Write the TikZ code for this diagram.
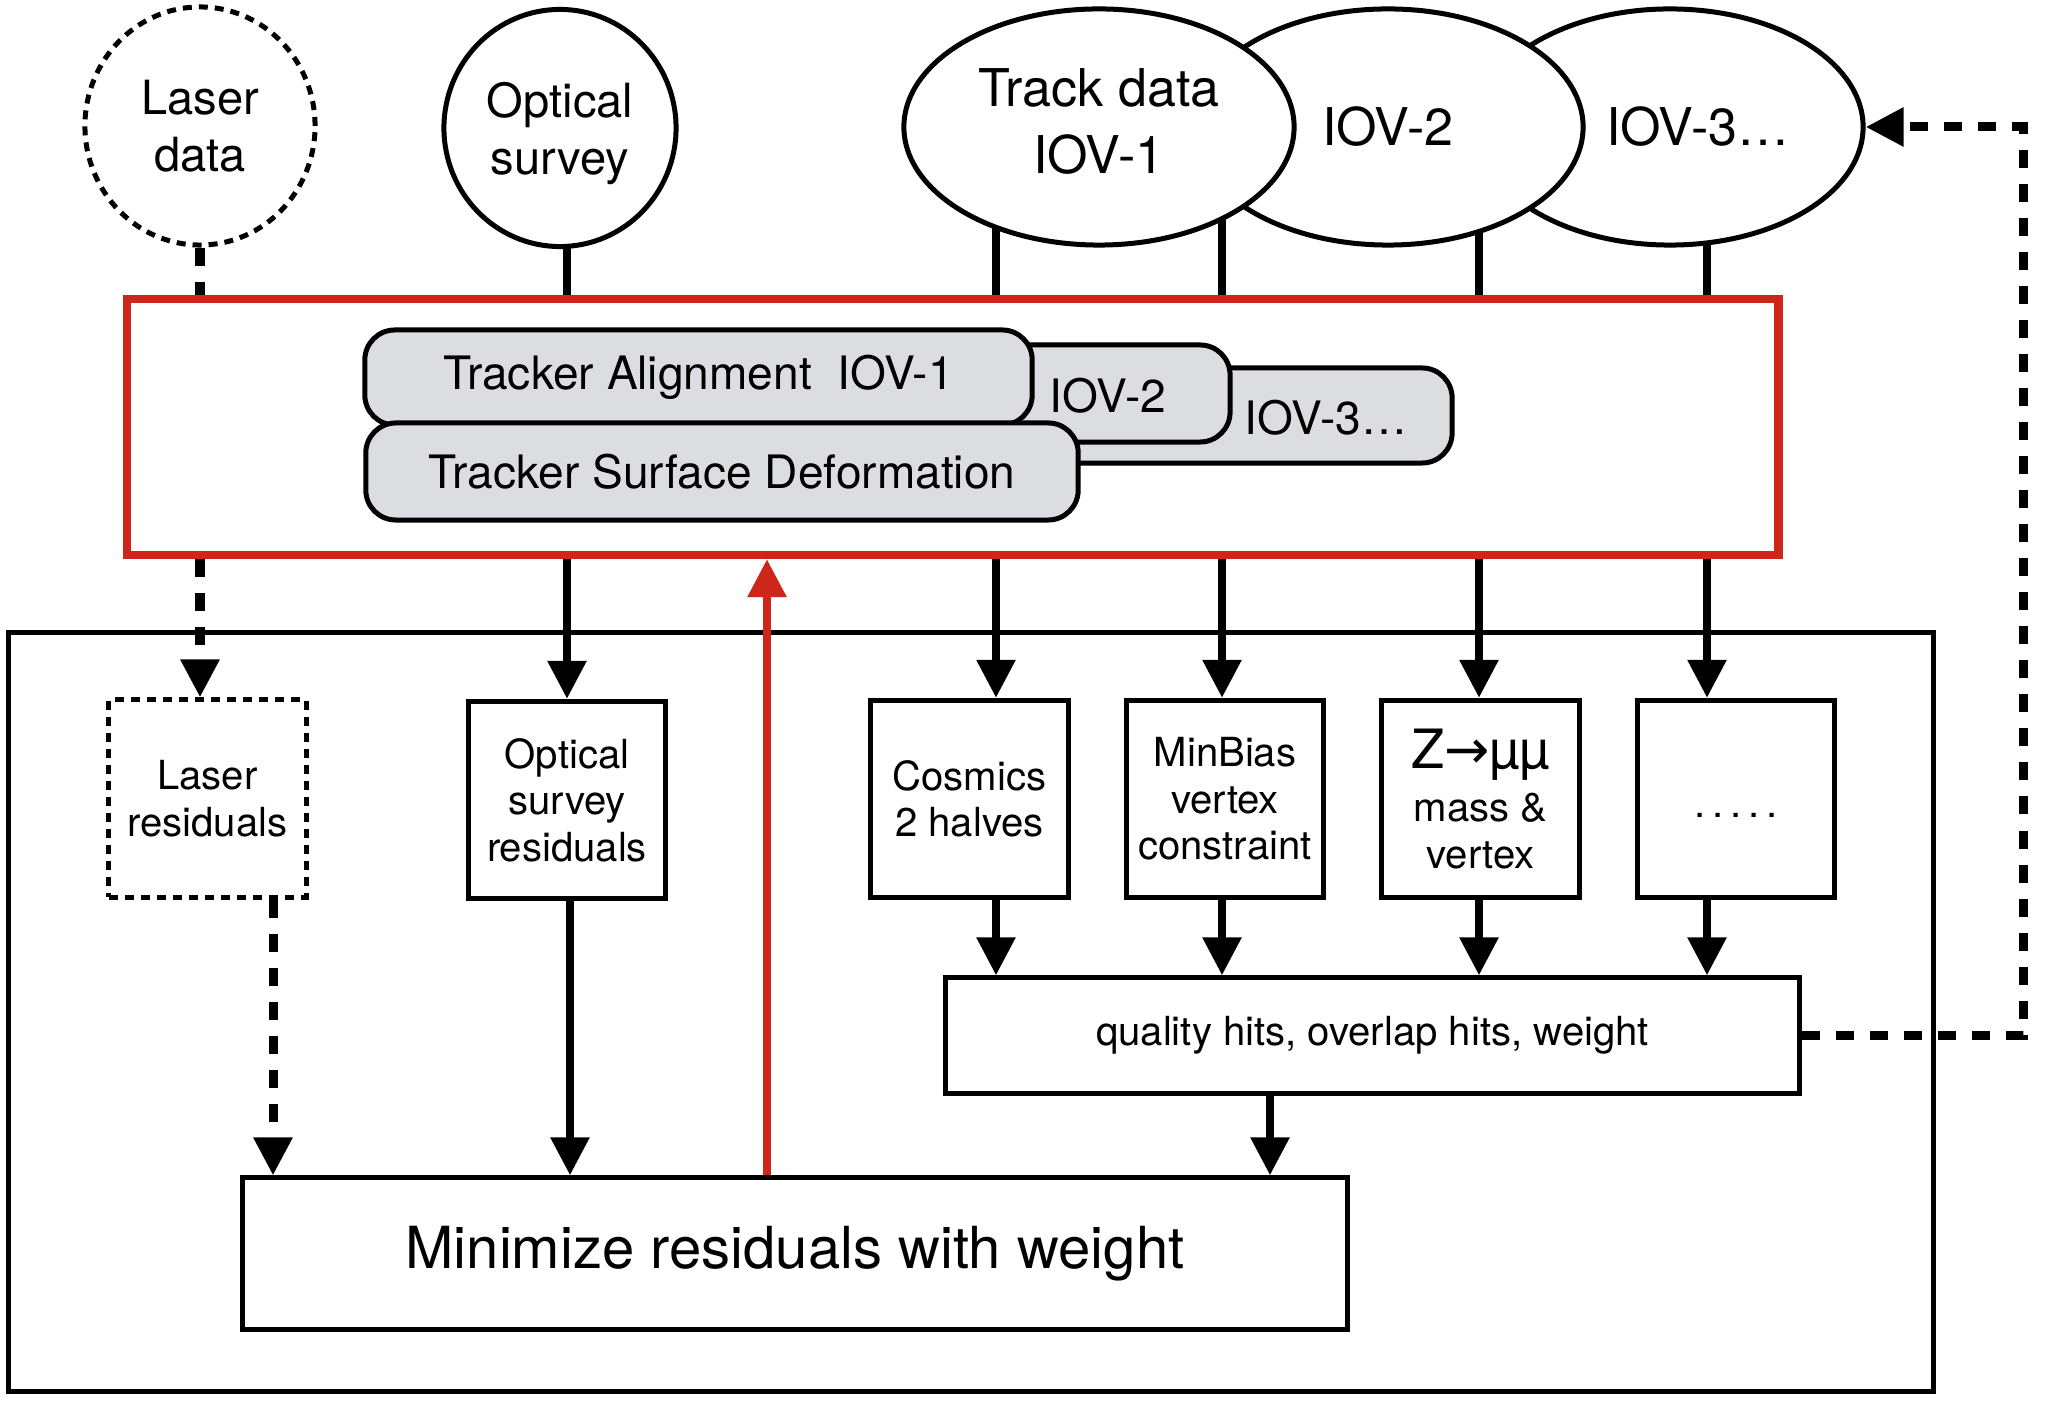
\documentclass[tikz,border=0pt]{standalone}
\usepackage{fontspec}
\setmainfont{TeX Gyre Heros}
\newfontfamily\dejavu{DejaVu Sans}
\usetikzlibrary{arrows.meta,shapes.geometric,backgrounds}
\definecolor{cmsred}{RGB}{205,38,27}
\definecolor{boxgray}{RGB}{220,221,224}
\begin{document}
\begin{tikzpicture}[x=0.01cm,y=-0.01cm,
  thinline/.style={line width=0.05cm},
  ell/.style={ellipse,draw,thinline,fill=white,inner sep=0pt,align=center},
  gbox/.style={draw,thinline,fill=boxgray,rounded corners=0.3cm,inner sep=0pt},
  sbox/.style={draw,thinline,fill=white,minimum width=1.97cm,minimum height=1.97cm,inner sep=0pt,align=center,font=\fontsize{11.4}{13.2}\selectfont},
  arr/.style={line width=0.085cm,-{Triangle[length=0.38cm,width=0.37cm]}},
  conn/.style={line width=0.085cm},
  thickdash/.style={line width=0.09cm,dash pattern=on 0.18cm off 0.16cm},
  dotline/.style={dash pattern=on 0.09cm off 0.07cm},
  circfont/.style={font=\fontsize{13.4}{16.2}\selectfont},
  ellfont/.style={font=\fontsize{14.8}{19}\selectfont},
  gfont/.style={font=\fontsize{13.1}{15}\selectfont},
]
\useasboundingbox (0,0) rectangle (2048,1401);

% column coordinates
\coordinate (xB) at (567,0);
\coordinate (xC) at (996,0);
\coordinate (xD) at (1222,0);
\coordinate (xE) at (1479,0);
\coordinate (xF) at (1707,0);
\coordinate (xR) at (767,0);
\coordinate (xL) at (273,0);
\coordinate (xO) at (570,0);
\coordinate (xQ) at (1270,0);
\coordinate (fb) at (2023,0);

% outer frame
\node[draw,thinline,minimum width=19.24cm,minimum height=7.58cm,inner sep=0pt] (frame) at (971,1012) {};

% source ellipses
\node[ell,dotline,minimum width=2.30cm,minimum height=2.38cm,circfont] (laser) at (200,126) {Laser\\data};
\node[ell,minimum width=2.32cm,minimum height=2.37cm,circfont,text depth=0pt] (optical) at (560,128) {Optical\\survey};
\node[ell,minimum width=3.86cm,minimum height=2.36cm] (iov3) at (1670,127) {};
\node[ellfont] (iov3t) at (1698,127) {IOV-3…};
\node[ell,minimum width=3.90cm,minimum height=2.36cm,ellfont] (iov2) at (1388,127) {IOV-2};
\node[ell,minimum width=3.90cm,minimum height=2.36cm,ellfont,text depth=0.12cm] (iov1) at (1099,127) {Track data\\IOV-1};

% red box
\node[draw=cmsred,line width=0.08cm,fill=white,minimum width=16.51cm,minimum height=2.56cm,inner sep=0pt] (red) at (952.5,427) {};

% gray boxes
\node[gbox,minimum width=4.52cm,minimum height=0.95cm] (g3) at (1226,415.5) {};
\node[gfont] (g3t) at (1326,418) {IOV-3…};
\node[gbox,minimum width=3.30cm,minimum height=0.97cm] (g2) at (1065,393.5) {};
\node[gfont] (g2t) at (1108,396) {IOV-2};
\node[gbox,minimum width=6.67cm,minimum height=0.95cm,gfont] (galign) at (698.5,377.5) {Tracker Alignment~~IOV-1};
\node[gbox,minimum width=7.12cm,minimum height=0.97cm,gfont] (gsurf) at (722,471.5) {Tracker Surface Deformation};

% connectors from sources into the red box (behind the ellipses)
\begin{scope}[on background layer]
\fill[white] (0,0) rectangle (2048,1401);
\draw[thickdash] (laser.south) -- (laser.south |- red.north);
\draw[conn] (xB |- optical.center) -- (xB |- red.north);
\draw[conn] (xC |- iov1.center) -- (xC |- red.north);
\draw[conn] (xD |- iov1.center) -- (xD |- red.north);
\draw[conn] (xE |- iov2.center) -- (xE |- red.north);
\draw[conn] (xF |- iov3.center) -- (xF |- red.north);
\end{scope}

% residual boxes
\node[sbox,dotline] (laserres) at (207.5,798.5) {Laser\\residuals};
\node[sbox] (optres) at (567,800) {Optical\\survey\\residuals};
\node[sbox] (cosmics) at (969.5,799) {Cosmics\\2 halves};
\node[sbox] (minbias) at (1225,799) {MinBias\\vertex\\constraint};
\node[sbox] (zmm) at (1480.5,799) {{\fontsize{15.4}{17}\selectfont Z{\dejavu →}µµ}\\[2pt]mass \&\\vertex};
\node[sbox] (dotsbox) at (1736,799) {};
\node[anchor=base,font=\fontsize{11.4}{13.2}\selectfont] (dotst) at (1736,818) {.\,.\,.\,.\,.};

% quality and minimize boxes
\node[draw,thinline,fill=white,minimum width=8.53cm,minimum height=1.15cm,inner sep=0pt,font=\fontsize{11.4}{13.2}\selectfont] (quality) at (1372.5,1035.5) {quality hits, overlap hits, weight};
\node[draw,thinline,fill=white,minimum width=11.04cm,minimum height=1.51cm,inner sep=0pt,font=\fontsize{16.5}{19}\selectfont] (minimize) at (795,1253.5) {Minimize residuals with weight};

% arrows from red box to residual boxes
\draw[arr,thickdash] (laser.south |- red.south) -- (laser.south |- laserres.north);
\draw[arr] (xB |- red.south) -- (xB |- optres.north);
\draw[arr] (xC |- red.south) -- (xC |- cosmics.north);
\draw[arr] (xD |- red.south) -- (xD |- minbias.north);
\draw[arr] (xE |- red.south) -- (xE |- zmm.north);
\draw[arr] (xF |- red.south) -- (xF |- dotsbox.north);

% arrows to quality
\draw[arr] (xC |- cosmics.south) -- (xC |- quality.north);
\draw[arr] (xD |- minbias.south) -- (xD |- quality.north);
\draw[arr] (xE |- zmm.south) -- (xE |- quality.north);
\draw[arr] (xF |- dotsbox.south) -- (xF |- quality.north);

% arrows to minimize
\draw[arr] (xQ |- quality.south) -- (xQ |- minimize.north);
\draw[arr,thickdash] (xL |- laserres.south) -- (xL |- minimize.north);
\draw[arr] (xO |- optres.south) -- (xO |- minimize.north);

% red feedback arrow
\draw[arr,color=cmsred] (xR |- minimize.north) -- (xR |- red.south);

% dashed feedback to next IOV
\draw[arr,thickdash] (quality.east) -- (quality.east -| fb) -- (fb |- iov3.east) -- (iov3.east);
\end{tikzpicture}
\end{document}
